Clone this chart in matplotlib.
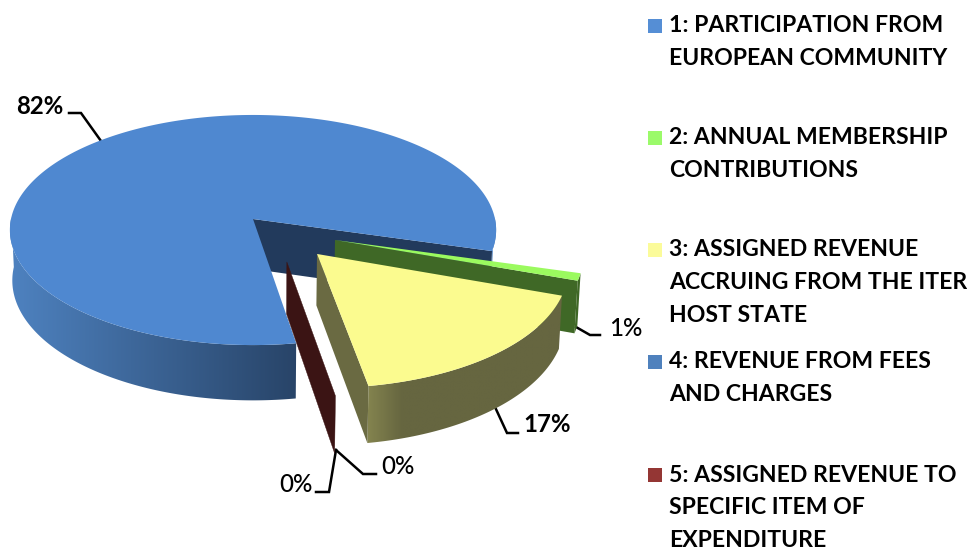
import numpy as np
import matplotlib
matplotlib.use('Agg')
import matplotlib.pyplot as plt
from matplotlib.patches import Polygon, Rectangle

shares = [82, 1, 17, 0, 0]
legend_lines = [
    ['1: PARTICIPATION FROM', 'EUROPEAN COMMUNITY'],
    ['2: ANNUAL MEMBERSHIP', 'CONTRIBUTIONS'],
    ['3: ASSIGNED REVENUE', 'ACCRUING FROM THE ITER', 'HOST STATE'],
    ['4: REVENUE FROM FEES', 'AND CHARGES'],
    ['5: ASSIGNED REVENUE TO', 'SPECIFIC ITEM OF', 'EXPENDITURE'],
]

top_colors = ['#4F88D0', '#9BFA5F', '#FBFB8F', '#4F88D0', '#943634']
face_colors = ['#223A5C', '#3F6826', '#6A6A42', '#223A5C', '#3B1414']
rim_light = ['#4E82C0', '#3F6826', '#84844F', '#4E82C0', '#3B1414']
rim_dark = ['#284468', '#3F6826', '#666640', '#284468', '#3B1414']
legend_colors = ['#558ED5', '#9BFA6A', '#FBFB9A', '#4F81BD', '#943634']

# pie is laid out in pixels of the 967x549 picture
center_x, center_y = 253, 219
scale_x, scale_y = 242, 114
persp = 0.0957
depth = 50
start_angle = -80.7
explode = [(0, 0), (0.333, -0.181), (0.257, -0.298), (0.135, -0.364), (0.135, -0.364)]
gradient_px = [287, 1, 35, 1, 1]


def project(x, y, drop=0.0):
    s = 1 / (1 + persp * y)
    shrink = 1 - 0.01 * (drop > 0)
    return (center_x + scale_x * x * s * shrink,
            center_y - scale_y * y * s + depth * s * (drop > 0))


def point(angle, shift, radius=1.0, drop=0.0):
    a = np.radians(angle)
    return project(shift[0] + radius * np.cos(a), shift[1] + radius * np.sin(a), drop)


def draw_rim(ax, i, angles):
    # outer side with a left to right shade, clipped from a gradient image
    shift = explode[i]
    x_top, y_top = point(angles, shift)
    x_bot, y_bot = point(angles, shift, drop=1)
    outline = list(zip(x_top, y_top)) + list(zip(x_bot, y_bot))[::-1]
    patch = Polygon(outline, closed=True, fc='none', ec='none', transform=ax.transData)
    ax.add_patch(patch)

    left = min(x_top.min(), x_bot.min())
    right = max(x_top.max(), x_bot.max())
    columns = np.linspace(left, right, 256)
    t = np.clip((columns - left) / gradient_px[i], 0, 1)[:, None]
    rgb1 = np.array(matplotlib.colors.to_rgb(rim_light[i]))
    rgb2 = np.array(matplotlib.colors.to_rgb(rim_dark[i]))
    img = (rgb1 + (rgb2 - rgb1) * t)[None, :, :]
    im = ax.imshow(img, extent=(left, right, max(y_bot.max(), y_top.max()) + 1, min(y_top.min(), y_bot.min()) - 1),
                   aspect='auto', interpolation='bilinear', zorder=2)
    im.set_clip_path(patch)


def draw_slice(ax, i, a_start, a_end):
    shift = explode[i]
    angles = np.linspace(a_start, a_end, max(3, int(abs(a_end - a_start) * 2)))
    xs, ys = point(angles, shift)

    # sweep order runs clockwise, split where the rim turns away from the viewer
    facing = np.sin(np.radians(angles)) < 0.02
    runs = np.split(angles, np.where(np.diff(facing.astype(int)) != 0)[0] + 1)
    for run in runs:
        if len(run) > 1 and np.sin(np.radians(run[len(run) // 2])) < 0.02:
            draw_rim(ax, i, run)

    apex = project(shift[0], shift[1])
    apex_bot = project(shift[0], shift[1], drop=1)

    # cut face at the clockwise end, drawn first so the top hides what is behind it
    ax.add_patch(Polygon([apex, (xs[-1], ys[-1]), point(a_end, shift, drop=1), apex_bot],
                         closed=True, fc=face_colors[i], ec='none', zorder=2))
    ax.add_patch(Polygon([apex] + list(zip(xs, ys)), closed=True, fc=top_colors[i], ec='none', zorder=2))


fig = plt.figure(figsize=(9.67, 5.49), dpi=100)
ax = fig.add_axes([0, 0, 1, 1])
ax.axis('off')

edges = start_angle - np.cumsum([0] + shares) * 3.6
for i in [0, 1, 2, 4]:
    if shares[i] == 0:
        # nothing to sweep, only the cut face shows
        a = edges[i]
        shift = explode[i]
        ax.add_patch(Polygon([project(shift[0], shift[1]), point(a, shift), point(a, shift, drop=1),
                              project(shift[0], shift[1], drop=1)],
                             closed=True, fc=face_colors[i], ec=face_colors[i], lw=0.3, zorder=2))
    else:
        draw_slice(ax, i, edges[i], edges[i + 1])

# leader lines
leaders = [
    [(101, 141), (81, 113), (69, 113)],
    [(576, 327), (590, 335), (600, 335)],
    [(495, 407), (507, 433), (518, 433)],
    [(336, 450), (363, 474), (376, 474)],
    [(336, 450), (329, 492), (316, 492)],
]
for pts in leaders:
    ax.plot([p[0] for p in pts], [p[1] for p in pts], color='black', lw=1.8, solid_joinstyle='miter', zorder=1)

label_font = {'family': 'Lato', 'fontsize': 17.3, 'color': 'black', 'va': 'center', 'ha': 'left'}
ax.text(16, 106, f'{shares[0]}%', fontweight='bold', **label_font)
ax.text(609, 328, f'{shares[1]}%', fontweight='medium', **label_font)
ax.text(523, 425, f'{shares[2]}%', fontweight='bold', **label_font)
ax.text(381, 467, f'{shares[3]}%', fontweight='medium', **label_font)
ax.text(279, 485, f'{shares[4]}%', fontweight='medium', **label_font)

# legend
legend_y = [26, 138, 250, 362, 475]
for lines, y0, col in zip(legend_lines, legend_y, legend_colors):
    ax.add_patch(Rectangle((648, y0 - 7.5), 14, 14, fc=col, ec='none'))
    for k, line in enumerate(lines):
        ax.text(669, y0 + k * 32.6, line, family='Lato', fontsize=16.6, fontweight='bold',
                color='black', va='center', ha='left')

ax.set_xlim(0, 967)
ax.set_ylim(549, 0)

fig.savefig('out.png', dpi=100)
